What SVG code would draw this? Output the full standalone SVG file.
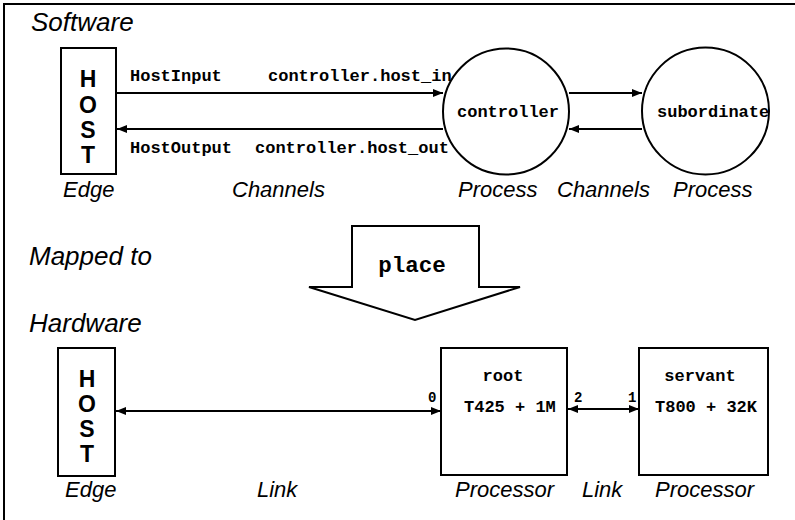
<svg xmlns="http://www.w3.org/2000/svg" width="795" height="520" viewBox="0 0 795 520">
<defs>
<marker id="ah" viewBox="0 0 10 8" refX="10" refY="4" markerWidth="11" markerHeight="8" markerUnits="userSpaceOnUse" orient="auto-start-reverse">
<path d="M0,0 L10,4 L0,8 Z" fill="#000"/>
</marker>
</defs>
<style>
.title{font-family:"Liberation Sans",Arial,sans-serif;font-style:italic;font-size:26px;fill:#000}
.lbl{font-family:"Liberation Sans",Arial,sans-serif;font-style:italic;font-size:22px;fill:#000}
.mono{font-family:"Liberation Mono","Courier New",monospace;font-weight:bold;font-size:17px;fill:#000}
.num{font-family:"Liberation Mono","Courier New",monospace;font-weight:bold;font-size:14px;fill:#000}
.host{font-family:"Liberation Sans",Arial,sans-serif;font-weight:bold;font-size:23px;fill:#000;text-anchor:middle}
.shape{fill:#fff;stroke:#000;stroke-width:2}
.conn{stroke:#000;stroke-width:2;fill:none}
</style>
<rect width="795" height="520" fill="#fff"/>
<path d="M4,520 L4,4 L795,4" fill="none" stroke="#000" stroke-width="2"/>

<text class="title" x="31" y="31">Software</text>
<text class="title" x="29" y="265">Mapped to</text>
<text class="title" x="29" y="332">Hardware</text>

<g id="connectors">
<line class="conn" x1="117" y1="93" x2="443" y2="93" marker-end="url(#ah)"/>
<line class="conn" x1="443" y1="129" x2="117" y2="129" marker-end="url(#ah)"/>
<line class="conn" x1="569" y1="93" x2="642" y2="93" marker-end="url(#ah)"/>
<line class="conn" x1="642" y1="129" x2="569" y2="129" marker-end="url(#ah)"/>
<line class="conn" x1="116" y1="411" x2="441" y2="411" marker-start="url(#ah)" marker-end="url(#ah)"/>
<line class="conn" x1="568" y1="409" x2="639" y2="409" marker-start="url(#ah)" marker-end="url(#ah)"/>
<text class="mono" x="130" y="81">HostInput</text>
<text class="mono" x="268" y="81">controller.host_in</text>
<text class="mono" x="130" y="153">HostOutput</text>
<text class="mono" x="255" y="153">controller.host_out</text>
<text class="num" x="428" y="402">0</text>
<text class="num" x="574" y="402">2</text>
<text class="num" x="628" y="402">1</text>
</g>

<g id="host-sw">
<rect class="shape" x="61" y="48" width="55" height="126"/>
<text class="host" x="88" y="87">H</text>
<text class="host" x="88" y="113">O</text>
<text class="host" x="88" y="138">S</text>
<text class="host" x="88" y="163">T</text>
</g>

<g id="controller">
<circle class="shape" cx="506" cy="111.5" r="63"/>
<text class="mono" x="457" y="117">controller</text>
</g>

<g id="subordinate">
<circle class="shape" cx="705.5" cy="111" r="63.5"/>
<text class="mono" x="657" y="117">subordinate</text>
</g>

<text class="lbl" x="63" y="197">Edge</text>
<text class="lbl" x="232" y="197">Channels</text>
<text class="lbl" x="458" y="197">Process</text>
<text class="lbl" x="557" y="197">Channels</text>
<text class="lbl" x="673" y="197">Process</text>

<g id="place">
<path class="shape" d="M352,226 L479,226 L479,287 L520,287 L415,320 L309,287 L352,287 Z"/>
<text class="mono" x="412" y="272" style="font-size:22.5px" text-anchor="middle">place</text>
</g>

<g id="host-hw">
<rect class="shape" x="58" y="348" width="57" height="128"/>
<text class="host" x="87" y="387">H</text>
<text class="host" x="87" y="412">O</text>
<text class="host" x="87" y="437">S</text>
<text class="host" x="87" y="462">T</text>
</g>

<g id="root">
<rect class="shape" x="441" y="348" width="126" height="127"/>
<text class="mono" x="503" y="381" text-anchor="middle">root</text>
<text class="mono" x="464" y="412">T425 + 1M</text>
</g>

<g id="servant">
<rect class="shape" x="639" y="348" width="129" height="127"/>
<text class="mono" x="700" y="381" text-anchor="middle">servant</text>
<text class="mono" x="655" y="412">T800 + 32K</text>
</g>

<text class="lbl" x="65" y="497">Edge</text>
<text class="lbl" x="257" y="497">Link</text>
<text class="lbl" x="455" y="497">Processor</text>
<text class="lbl" x="582" y="497">Link</text>
<text class="lbl" x="655" y="497">Processor</text>
</svg>
